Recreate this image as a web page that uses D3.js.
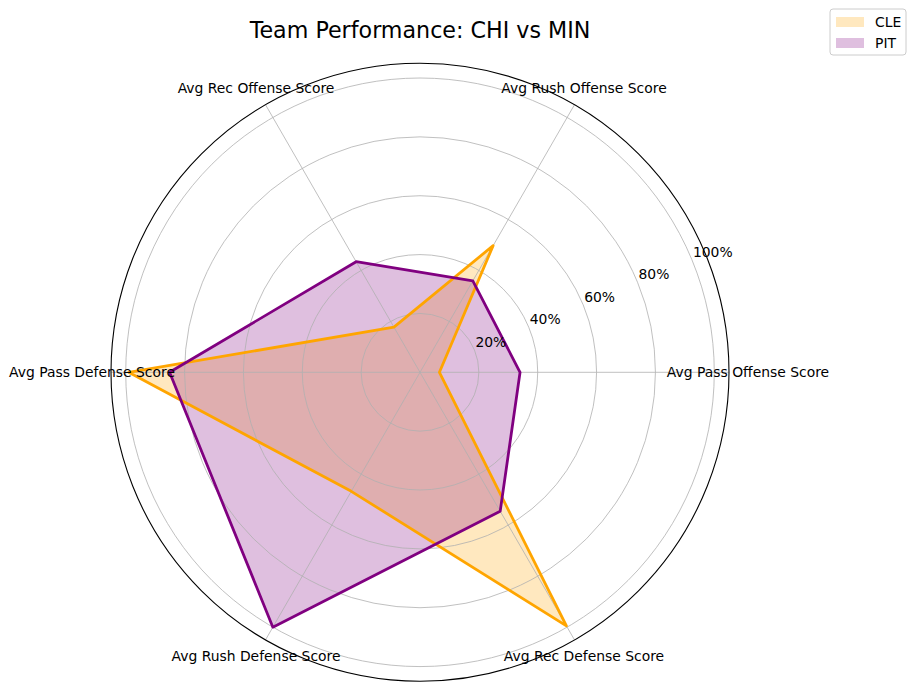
<!DOCTYPE html>
<html>
<head>
<meta charset="utf-8">
<script src="https://cdn.jsdelivr.net/npm/d3@7"></script>
<style>
  html, body { margin: 0; padding: 0; background: #fff; }
  text { font-family: "DejaVu Sans", sans-serif; }
</style>
</head>
<body>
<svg id="chart" width="916" height="690"></svg>
<script>
const categories = ["Avg Pass Offense Score", "Avg Rush Offense Score", "Avg Rec Offense Score",
                    "Avg Pass Defense Score", "Avg Rush Defense Score", "Avg Rec Defense Score"];
const teams = ["CLE", "PIT"];
const cleValues = [0.066, 0.497, 0.177, 0.99, 0.467, 0.995];
const pitValues = [0.34, 0.359, 0.434, 0.851, 1.0, 0.545];
const colors = ["orange", "purple"];
const tickValues = [0.2, 0.4, 0.6, 0.8, 1.0];
const tickLabels = ["20%", "40%", "60%", "80%", "100%"];
const titleText = "Team Performance: CHI vs MIN";

const svg = d3.select("#chart");
const cx = 420, cy = 372.3, R = 309;
const r = d3.scaleLinear().domain([0, 1.05]).range([0, R]);
const theta = d3.scaleLinear().domain([0, categories.length]).range([0, 2 * Math.PI]);
const g = svg.append("g").attr("transform", `translate(${cx},${cy})`);
const px = (t, rad) => rad * Math.cos(t);
const py = (t, rad) => -rad * Math.sin(t);

const series = [cleValues, pitValues];
const line = d3.lineRadial()
  .angle((d, i) => Math.PI / 2 - theta(i))
  .radius(d => r(d))
  .curve(d3.curveLinearClosed);

// fills (zorder 1)
series.forEach((vals, k) => {
  g.append("path").attr("d", line(vals))
    .attr("fill", colors[k]).attr("fill-opacity", 0.25).attr("stroke", "none");
});

// grid (zorder 1.5)
tickValues.forEach(v => {
  g.append("circle").attr("r", r(v)).attr("fill", "none")
    .attr("stroke", "#b0b0b0").attr("stroke-width", 0.8);
});
categories.forEach((c, i) => {
  const t = theta(i);
  g.append("line").attr("x1", 0).attr("y1", 0)
    .attr("x2", px(t, R)).attr("y2", py(t, R))
    .attr("stroke", "#b0b0b0").attr("stroke-width", 0.8);
});

// lines (zorder 2)
series.forEach((vals, k) => {
  g.append("path").attr("d", line(vals))
    .attr("fill", "none").attr("stroke", colors[k]).attr("stroke-width", 2.78)
    .attr("stroke-linejoin", "round");
});

// outer frame
g.append("circle").attr("r", R).attr("fill", "none").attr("stroke", "#000").attr("stroke-width", 1.1);

// radial tick labels at 22.5 deg
const labAng = 22.5 * Math.PI / 180;
tickValues.forEach((v, i) => {
  g.append("text")
    .attr("x", px(labAng, r(v)) + 1)
    .attr("y", py(labAng, r(v)) - 3)
    .attr("text-anchor", "start")
    .attr("font-size", "13.9px")
    .attr("fill", "#000")
    .text(tickLabels[i]);
});

// category labels
categories.forEach((c, i) => {
  const t = theta(i);
  g.append("text")
    .attr("x", px(t, R + 19))
    .attr("y", py(t, R + 19))
    .attr("text-anchor", "middle")
    .attr("dominant-baseline", "central")
    .attr("font-size", "13.9px")
    .attr("fill", "#000")
    .text(c);
});

// title
svg.append("text").attr("x", 420).attr("y", 37.5)
  .attr("text-anchor", "middle").attr("font-size", "22.2px").attr("fill", "#000")
  .text(titleText);

// legend
const lg = svg.append("g").attr("transform", "translate(830,9)");
lg.append("rect").attr("x", 0).attr("y", 0).attr("width", 76).attr("height", 46)
  .attr("rx", 3).attr("fill", "#fff").attr("fill-opacity", 0.8)
  .attr("stroke", "#cccccc").attr("stroke-width", 1);
teams.forEach((tm, k) => {
  const yy = 8 + k * 21;
  lg.append("rect").attr("x", 6).attr("y", yy).attr("width", 28).attr("height", 10)
    .attr("fill", colors[k]).attr("fill-opacity", 0.25);
  lg.append("text").attr("x", 45).attr("y", yy + 10)
    .attr("font-size", "13.9px").attr("fill", "#000").text(tm);
});
</script>
</body>
</html>
